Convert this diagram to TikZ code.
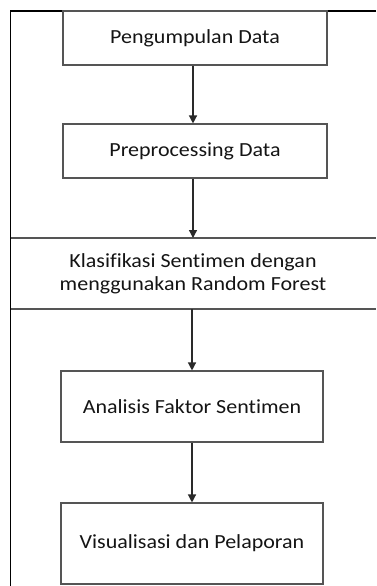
\documentclass[tikz,border=0pt]{standalone}
\usepackage{fontspec}
\setmainfont[Ligatures={NoCommon}]{Carlito}
\usetikzlibrary{arrows.meta}
\definecolor{boxgray}{HTML}{555555}
\definecolor{arrowgray}{HTML}{2A2A2A}
\definecolor{txtgray}{HTML}{141414}
\newcommand{\wtext}[1]{\scalebox{1.1}[1]{#1}}
\begin{document}
\begin{tikzpicture}[x=1bp,y=-1bp,
  procbox/.style={draw=boxgray,line width=1.1bp,minimum width=#1,inner sep=0pt,
    font=\fontsize{20bp}{22.5bp}\selectfont,text=txtgray,align=center},
  flowarrow/.style={draw=arrowgray,line width=1.3bp,-{Triangle[width=8bp,length=8bp]}},
  framestyle/.style={draw=black,line width=1.3bp}]
\useasboundingbox (0,0) rectangle (376,586);
% outer frame
\draw[framestyle] (376,11) -- (10.5,11) -- (10.5,586);
% boxes
\node[procbox=264bp,minimum height=54bp] (b1) at (195,38) {\wtext{Pengumpulan Data}};
\node[procbox=264bp,minimum height=54bp] (b2) at (195,151) {\wtext{Preprocessing Data}};
\node[procbox=0bp,draw=none,minimum height=71bp] (b3) at (193,274) {\wtext{Klasifikasi Sentimen dengan}\\\wtext{menggunakan Random Forest}};
\draw[draw=boxgray,line width=1.1bp] (10.5,238) -- (376,238);
\draw[draw=boxgray,line width=1.1bp] (10.5,309) -- (376,309);
\coordinate (b3top) at (193,238);
\coordinate (b3bot) at (192,309);
\node[procbox=262bp,minimum height=71bp] (b4) at (192,406.5) {\wtext{Analisis Faktor Sentimen}};
\node[procbox=262bp,minimum height=81bp] (b5) at (192,543.5) {\wtext{Visualisasi dan Pelaporan}};
% arrows
\draw[flowarrow] (b1.south -| 193,0) -- (b2.north -| 193,0);
\draw[flowarrow] (b2.south -| 193,0) -- (b3top);
\draw[flowarrow] (b3bot) -- (b4.north);
\draw[flowarrow] (b4.south) -- (b5.north);
\end{tikzpicture}
\end{document}
